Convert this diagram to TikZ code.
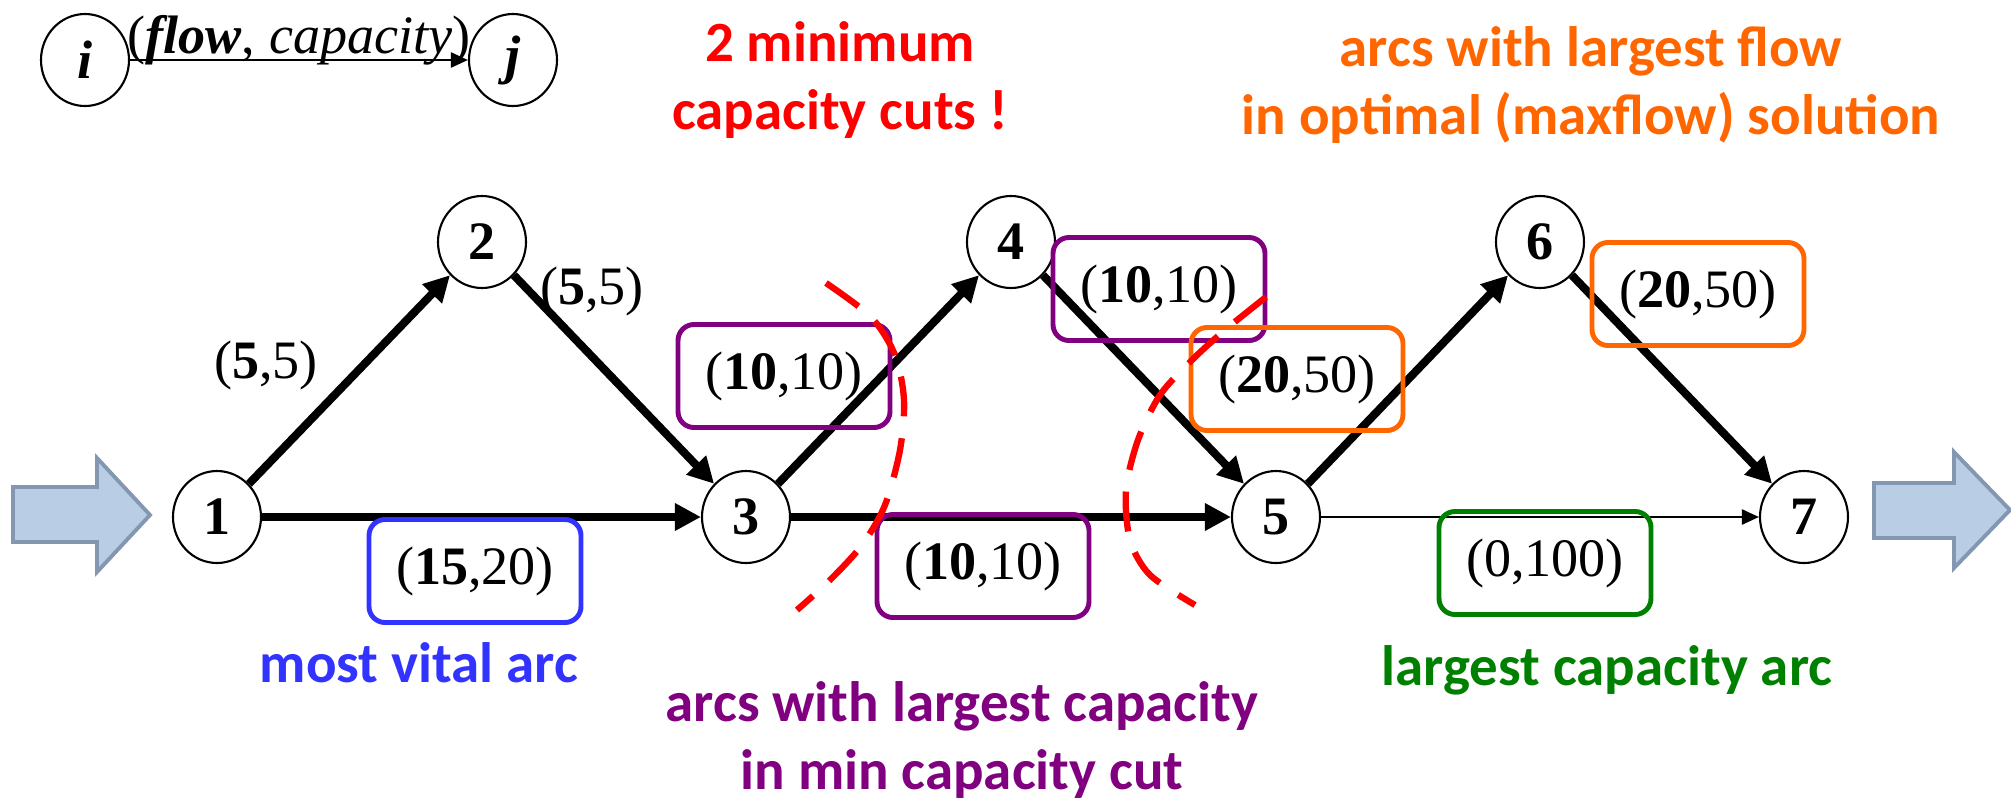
\documentclass[tikz,border=0pt]{standalone}
\usepackage{fontspec}
\setmainfont{Liberation Serif}
\newfontfamily\calibri{Carlito}
\usetikzlibrary{arrows.meta,shapes.geometric}
\definecolor{cutred}{HTML}{FF0000}
\definecolor{flowor}{HTML}{FF6600}
\definecolor{cutpurple}{HTML}{800080}
\definecolor{vitalblue}{HTML}{3333FF}
\definecolor{capgreen}{HTML}{008000}
\definecolor{arrowfill}{HTML}{B9CDE5}
\definecolor{arrowline}{HTML}{8497B0}

\begin{document}
\begin{tikzpicture}[
  vertex/.style={draw, ellipse, line width=0.6pt, minimum width=0.88cm,
                 minimum height=0.92cm, inner sep=0pt,
                 font=\fontsize{15.4}{18}\selectfont\bfseries},
  arc/.style={line width=2.3pt, -{Triangle[length=2.6mm,width=2.6mm]}},
  thinarc/.style={line width=0.7pt, -{Triangle[length=1.7mm,width=1.5mm]}},
  flowlbl/.style={font=\fontsize{15.4}{18}\selectfont, inner sep=0pt},
  flowbox/.style={draw, rounded corners=0.16cm, line width=1.4pt,
                  minimum width=2.12cm, minimum height=1.03cm,
                  font=\fontsize{15.4}{18}\selectfont},
  note/.style={font=\calibri\bfseries\fontsize{16.2}{19.3}\selectfont, align=center},
  cut/.style={draw=cutred, line width=1.8pt, dash pattern=on 0.4cm off 0.22cm},
  bigarrow/.style={draw=arrowline, fill=arrowfill, line width=1.1pt}
]
\useasboundingbox (0,0) rectangle (20.11,-7.99);

% legend
\node[vertex] (i) at (0.85,-0.60) {\textit{i}};
\node[vertex] (j) at (5.13,-0.60) {\textit{j}};
\draw[thinarc] (i) -- node[flowlbl, anchor=base, yshift=0.07cm]
  {(\textbf{\textit{flow}}, \textit{capacity})} (j);

% network
\node[vertex] (n1) at ( 2.17,-5.17) {1};
\node[vertex] (n2) at ( 4.82,-2.42) {2};
\node[vertex] (n3) at ( 7.46,-5.17) {3};
\node[vertex] (n4) at (10.11,-2.42) {4};
\node[vertex] (n5) at (12.76,-5.17) {5};
\node[vertex] (n6) at (15.40,-2.42) {6};
\node[vertex] (n7) at (18.04,-5.17) {7};

\draw[arc] (n1) -- (n2);
\draw[arc] (n2) -- (n3);
\draw[arc] (n1) -- (n3);
\draw[arc] (n3) -- (n4);
\draw[arc] (n4) -- (n5);
\draw[arc] (n3) -- (n5);
\draw[arc] (n5) -- (n6);
\draw[arc] (n6) -- (n7);
\draw[thinarc] (n5) -- (n7);

% source and sink arrows
\draw[bigarrow] (0.13,-4.87) -- (0.97,-4.87) -- (0.97,-4.58) -- (1.50,-5.15)
  -- (0.97,-5.72) -- (0.97,-5.42) -- (0.13,-5.42) -- cycle;
\draw[bigarrow] (18.74,-4.83) -- (19.54,-4.83) -- (19.54,-4.52) -- (20.10,-5.10)
  -- (19.54,-5.68) -- (19.54,-5.38) -- (18.74,-5.38) -- cycle;

% arc labels
\node[flowlbl] (l12) at (2.66,-3.65) {(\textbf{5},5)};
\node[flowlbl] (l23) at (5.92,-2.91) {(\textbf{5},5)};
\node[flowbox, draw=vitalblue] (l13) at (4.75,-5.71) {(\textbf{15},20)};
\node[flowbox, draw=cutpurple] (l34) at (7.84,-3.76) {(\textbf{10},10)\hspace{0.1cm}};
\node[flowbox, draw=cutpurple] (l45) at (11.59,-2.89) {(\textbf{10},10)\hspace{0.2cm}};
\node[flowbox, draw=cutpurple] (l35) at (9.83,-5.66) {(\textbf{10},10)};
\node[flowbox, draw=flowor] (l56) at (12.97,-3.79) {(\textbf{20},50)\hspace{0.2cm}};
\node[flowbox, draw=flowor] (l67) at (16.98,-2.94) {(\textbf{20},50)\hspace{0.2cm}};
\node[flowbox, draw=capgreen] (l57) at (15.45,-5.63) {(0,100)};

% cuts
\draw[cut] plot[smooth] coordinates {(8.26,-2.83) (8.71,-3.17) (8.95,-3.55)
  (9.04,-4.00) (9.00,-4.50) (8.85,-5.05) (8.62,-5.45) (8.30,-5.80) (7.97,-6.10)};
\draw[cut] plot[smooth] coordinates {(12.66,-2.97) (12.25,-3.30) (11.92,-3.60)
  (11.60,-3.95) (11.38,-4.40) (11.26,-4.90) (11.30,-5.40) (11.50,-5.75) (11.95,-6.05)};

% notes
\node[note, text=cutred] (ncut) at (8.40,-0.80) {2 minimum\\capacity cuts !};
\node[note, text=flowor] (nflow) at (15.91,-0.85)
  {arcs with largest flow\\in optimal (maxflow) solution};
\node[note, text=vitalblue, anchor=base] (nvital) at (4.19,-6.82) {most vital arc};
\node[note, text=cutpurple] (nmincut) at (9.62,-7.40)
  {arcs with largest capacity\\in min capacity cut};
\node[note, text=capgreen, anchor=base] (ncap) at (16.07,-6.85) {largest capacity arc};
\end{tikzpicture}
\end{document}
